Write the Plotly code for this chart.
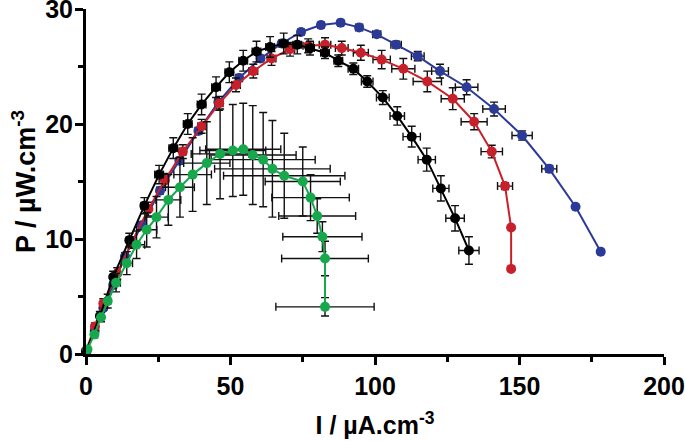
import plotly.graph_objects as go

# ---- data ----
I_black = [0, 4.8, 9.4, 15.0, 20.2, 25.3, 30.2, 35.2, 40.0, 45.0, 49.6, 54.4, 59.0, 63.7, 68.4,
           73.1, 77.5, 82.7, 87.3, 92.5, 97.3, 102.7, 107.7, 112.7, 117.9, 122.8, 127.7, 132.5]
P_black = [0.2, 3.3, 6.7, 9.9, 12.9, 15.6, 17.9, 20.0, 21.7, 23.2, 24.5, 25.5, 26.3, 26.7, 27.0,
           26.9, 26.6, 26.2, 25.5, 24.8, 23.7, 22.3, 20.7, 18.9, 16.9, 14.4, 11.8, 9.0]
Ierr_black = [0.3, 0.5, 0.8, 1.0, 1.2, 1.5, 1.5, 1.5, 1.5, 1.5, 1.5, 1.5, 1.5, 1.5, 1.5,
              1.5, 1.5, 1.5, 1.5, 1.8, 2.0, 2.2, 2.5, 3.0, 3.0, 2.8, 3.2, 3.5]
Perr_black = [0.2, 0.4, 0.5, 0.6, 0.7, 0.8, 0.9, 0.9, 0.9, 0.9, 0.9, 0.9, 0.9, 0.9, 0.9,
              0.8, 0.6, 0.5, 0.5, 0.5, 0.5, 0.6, 0.8, 0.9, 1.0, 1.1, 1.1, 1.2]

I_red = [0, 3.1, 6.0, 10.8, 15.8, 21.6, 27.3, 33.5, 40.0, 46.1, 51.9, 57.9, 64.2, 70.6,
         76.9, 82.7, 88.5, 95.1, 102.3, 109.8, 118.1, 126.9, 134.3, 140.4, 145.0, 147.1, 147.1]
P_red = [0.3, 2.4, 4.4, 7.0, 9.7, 12.6, 15.1, 17.6, 19.8, 21.8, 23.4, 24.6, 25.7, 26.5,
         26.8, 26.9, 26.6, 26.2, 25.6, 24.8, 23.7, 22.2, 20.2, 17.6, 14.6, 11.0, 7.4]
Ierr_red = [0.3, 0.5, 0.6, 0.8, 1.0, 1.0, 1.2, 1.2, 1.3, 1.3, 1.5, 1.5, 1.5, 1.6,
            1.8, 2.0, 2.2, 2.6, 3.0, 4.0, 4.9, 4.0, 4.5, 3.7, 2.6, 0, 0]
Perr_red = [0.2, 0.3, 0.4, 0.5, 0.5, 0.6, 0.6, 0.6, 0.6, 0.6, 0.6, 0.6, 0.6, 0.6,
            0.6, 0.6, 0.6, 0.65, 0.8, 0.9, 0.9, 0.95, 0.7, 0.55, 0.3, 0, 0]

I_blue = [0, 3.0, 6.0, 9.4, 13.5, 19.3, 25.6, 32.3, 38.9, 45.8, 53.0, 60.4, 67.7, 74.4,
          81.3, 88.1, 94.5, 100.6, 107.3, 114.8, 122.5, 131.7, 141.2, 150.9, 160.3, 169.4, 178.1]
P_blue = [0.2, 2.0, 4.0, 6.0, 8.5, 11.2, 14.2, 16.8, 19.4, 21.9, 24.0, 25.7, 27.0, 28.0,
          28.6, 28.8, 28.4, 27.8, 26.9, 25.9, 24.6, 23.2, 21.3, 19.0, 16.1, 12.8, 8.9]
Ierr_blue = [0.2, 0.3, 0.4, 0.5, 0.6, 0.7, 0.8, 0.8, 0.9, 1.0, 1.0, 1.0, 1.0, 1.0,
             1.0, 1.0, 1.2, 1.4, 1.8, 2.2, 2.9, 3.9, 3.9, 3.5, 2.6, 0, 0]
Perr_blue = [0.1, 0.2, 0.2, 0.3, 0.3, 0.3, 0.3, 0.3, 0.3, 0.3, 0.3, 0.2, 0.2, 0.2,
             0.2, 0.2, 0.2, 0.2, 0.3, 0.4, 0.6, 0.65, 0.6, 0.4, 0.3, 0, 0]

I_green = [0.5, 2.9, 5.2, 7.5, 10.4, 14.1, 17.5, 21.0, 24.4, 28.5, 32.5, 36.9, 41.8, 46.4,
           50.8, 54.4, 57.7, 61.3, 64.5, 68.6, 75.0, 77.7, 80.0, 81.8, 82.7, 82.7]
P_green = [0.4, 1.7, 3.2, 4.6, 6.2, 7.9, 9.5, 10.8, 11.9, 13.4, 14.5, 15.6, 16.6, 17.4,
           17.7, 17.8, 17.3, 16.9, 16.1, 15.5, 15.0, 13.6, 12.0, 10.2, 8.3, 4.1]
Ierr_green = [0.3, 0.5, 0.8, 1.0, 1.5, 2.0, 2.8, 3.5, 4.0, 4.3, 5.0, 6.5, 8.0, 10.0,
              11.4, 13.0, 15.0, 18.0, 20.0, 21.0, 13.0, 13.4, 13.3, 13.7, 15.0, 17.0]
Perr_green = [0.2, 0.3, 0.4, 0.6, 0.8, 1.0, 1.2, 1.5, 1.8, 2.2, 2.6, 3.2, 3.6, 3.9,
              4.0, 4.0, 4.3, 4.1, 4.2, 3.7, 3.0, 2.0, 1.5, 1.3, 1.5, 0.8]

x_ticks = [0, 50, 100, 150, 200]
y_ticks = [0, 10, 20, 30]

series = [
    ("blue", I_blue, P_blue, Ierr_blue, Perr_blue, "#2B3A97"),
    ("red", I_red, P_red, Ierr_red, Perr_red, "#C8202A"),
    ("black", I_black, P_black, Ierr_black, Perr_black, "#000000"),
    ("green", I_green, P_green, Ierr_green, Perr_green, "#17A84E"),
]

fig = go.Figure()
for name, xs, ys, xe, ye, col in series:
    fig.add_trace(go.Scatter(
        x=xs, y=ys, name=name, mode="lines+markers",
        line=dict(color=col, width=2),
        marker=dict(color=col, size=10),
        error_x=dict(type="data", array=xe, color="#111111", thickness=1.4, width=4),
        error_y=dict(type="data", array=ye, color="#111111", thickness=1.4, width=4),
        cliponaxis=False, showlegend=False,
    ))

font_family = "Liberation Sans, Arial, sans-serif"
fig.update_layout(
    width=685, height=441,
    margin=dict(l=86, r=21, t=9, b=87, autoexpand=False),
    paper_bgcolor="white", plot_bgcolor="white",
    font=dict(family=font_family, color="black"),
    xaxis=dict(
        range=[0, 200], tickvals=x_ticks, ticktext=[str(v) for v in x_ticks],
        automargin=False, ticklabeloverflow="allow",
        showgrid=False, zeroline=False, showline=True, linecolor="black", linewidth=3,
        ticks="outside", ticklen=8, tickwidth=3, tickcolor="black",
        minor=dict(dtick=25, tick0=0, ticks="outside", ticklen=5, tickwidth=3, tickcolor="black"),
        tickfont=dict(family=font_family, size=25, weight="bold", color="black"),
        title=dict(text="I / µA.cm<sup>-3</sup>", standoff=18,
                   font=dict(family=font_family, size=25, weight="bold", color="black")),
    ),
    yaxis=dict(
        range=[0, 30], tickvals=y_ticks, ticktext=[str(v) for v in y_ticks],
        automargin=False, ticklabeloverflow="allow", ticklabelstandoff=-3,
        showgrid=False, zeroline=False, showline=True, linecolor="black", linewidth=3,
        ticks="outside", ticklen=8, tickwidth=3, tickcolor="black",
        minor=dict(dtick=5, tick0=0, ticks="outside", ticklen=5, tickwidth=3, tickcolor="black"),
        tickfont=dict(family=font_family, size=25, weight="bold", color="black"),
        title=dict(text="P / µW.cm<sup>-3</sup>", standoff=2,
                   font=dict(family=font_family, size=27, weight="bold", color="black")),
    ),
)

fig.write_html("out.html", config={"displayModeBar": False},
               post_script="document.body.style.margin='0';document.body.style.padding='0';")
